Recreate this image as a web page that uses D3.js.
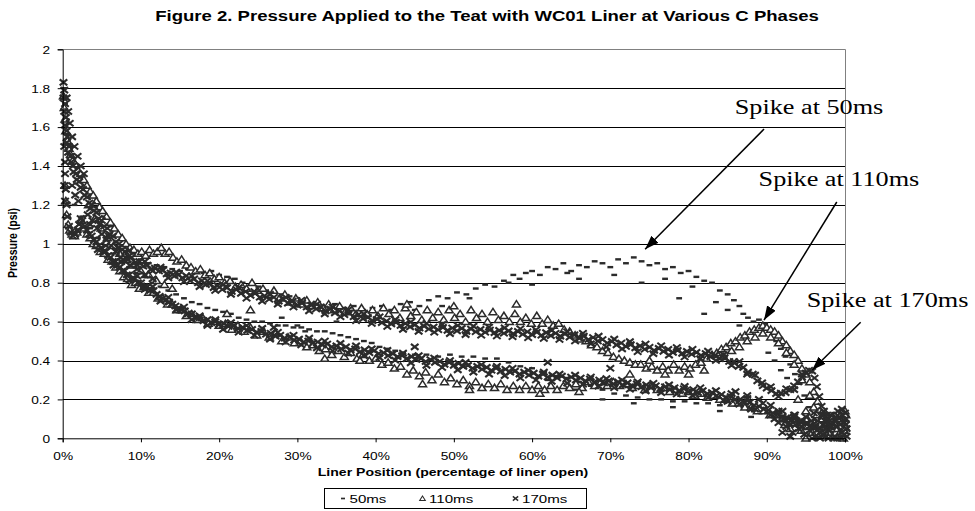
<!DOCTYPE html>
<html>
<head>
<meta charset="utf-8">
<script src="https://cdn.jsdelivr.net/npm/d3@7"></script>
<style>
  body { margin: 0; background: #fff; }
  svg { display: block; }
</style>
</head>
<body>
<script>
// ---- data (liner position %, pressure psi) ----
var xTicks = [0, 10, 20, 30, 40, 50, 60, 70, 80, 90, 100];
var yTicks = [0, 0.2, 0.4, 0.6, 0.8, 1, 1.2, 1.4, 1.6, 1.8, 2];
var seriesNames = ["50ms", "110ms", "170ms"];

// 50ms : upper arc, lower branch, loose points, floor cluster
var ms50Upper = [[0.2,1.8],[0.3,1.72],[0.5,1.64],[0.7,1.56],[1.0,1.5],[1.4,1.44],[1.9,1.39],[2.5,1.34],[3.1,1.29],[3.8,1.24],[4.5,1.19],[5.3,1.14],[6.1,1.09],[7.0,1.04],[8.0,0.99],[9.0,0.95],[10,0.92],[11,0.9],[12,0.89],[13,0.88],[14,0.87],[15,0.86],[16,0.87],[17,0.86],[18,0.85],[19,0.86],[20,0.84],[21,0.83],[22,0.82],[23,0.8],[24,0.79],[25,0.78],[26,0.76],[27,0.75],[28,0.74],[29,0.73],[30,0.72],[31.2,0.7],[32.4,0.7],[33.6,0.68],[34.8,0.69],[36,0.67],[37.2,0.68],[38.4,0.66],[39.6,0.67],[40.8,0.68],[42,0.66],[43.2,0.69],[44.4,0.7],[45.6,0.68],[46.8,0.71],[48,0.73],[49.2,0.72],[50.4,0.75],[51.6,0.74],[52.8,0.77],[54,0.79],[55.2,0.78],[56.4,0.81],[57.6,0.84],[58.4,0.82],[59.2,0.85],[60,0.86],[61,0.84],[62,0.88],[63,0.87],[64,0.9],[65,0.86],[66,0.89],[67,0.88],[68,0.91],[69,0.9],[70,0.88],[71,0.92],[72,0.9],[73,0.93],[74,0.91],[75,0.89],[76,0.9],[77,0.87],[78,0.88],[79,0.85],[80,0.86],[81,0.83],[82,0.81],[83,0.8],[84,0.76],[85,0.74],[85.8,0.71],[86.5,0.68],[87,0.64],[87.6,0.62],[88.3,0.6],[89,0.61],[89.8,0.59],[90.5,0.55],[91.2,0.5],[91.8,0.46],[92.4,0.42],[93,0.38],[93.6,0.33],[94.2,0.28],[94.8,0.22],[95.4,0.16],[96,0.11],[96.6,0.07]];
var ms50Lower = [[1.5,1.2],[2.5,1.14],[3.5,1.08],[4.5,1.03],[5.5,0.99],[6.5,0.95],[7.5,0.91],[8.5,0.88],[9.5,0.85],[10.5,0.83],[11.5,0.8],[12.5,0.78],[13.5,0.76],[14.5,0.74],[15.5,0.72],[16.5,0.7],[17.5,0.69],[18.5,0.67],[19.5,0.66],[20.5,0.65],[21.5,0.64],[22.5,0.62],[23.5,0.61],[24.5,0.6],[25.5,0.6],[26.5,0.59],[27.5,0.58],[28.5,0.58],[29.5,0.57],[30.5,0.57],[31.5,0.56],[32.5,0.55],[33.5,0.55],[34.5,0.54],[35.5,0.53],[36.5,0.52],[37.5,0.51],[38.5,0.5],[39.5,0.49],[40.5,0.47],[41.5,0.46],[42.5,0.45],[43.5,0.44],[45,0.43],[46.5,0.43],[48,0.42],[49.5,0.43],[51,0.42],[52.5,0.42],[54,0.41],[55.5,0.41],[57,0.39],[58.5,0.37],[60,0.36],[61.5,0.34],[63,0.32],[64.5,0.31],[66,0.29],[67.5,0.27],[69,0.25],[70.5,0.23],[72,0.22],[73.5,0.21],[75,0.2],[76.5,0.2],[78,0.19],[79.5,0.19],[81,0.18],[82.5,0.18],[84,0.17],[85.5,0.17],[87,0.16],[88.5,0.14],[90,0.13],[91.5,0.11],[93,0.09],[94.5,0.07],[96,0.05]];
var ms50Loose = [[66,0.82],[70.5,0.84],[74,0.8],[77,0.82],[78.8,0.72],[80.5,0.78],[82,0.64],[83.5,0.7],[85,0.66],[86.5,0.58],[88,0.55],[90.2,0.44],[91,0.4],[91.8,0.35],[92.6,0.31],[57,0.8],[60,0.79],[64.5,0.85],[52,0.72],[48.5,0.68],[45,0.66],[40,0.62],[35,0.6],[30,0.58],[62,0.3],[65.5,0.25],[69,0.2],[73,0.18],[78,0.16],[84,0.14],[88,0.11],[28,0.62],[31,0.55]];
var ms50Floor = [[95.5,0.02],[96.9,0.1],[97.8,0.06],[98.6,0.13],[99.3,0.04],[100,0.09],[99.8,0.15],[98.1,0.0]];

// 110ms
var ms110Upper = [[0.1,1.76],[0.2,1.7],[0.3,1.64],[0.4,1.58],[0.6,1.53],[0.8,1.49],[1.0,1.46],[1.3,1.43],[1.6,1.41],[1.9,1.38],[2.3,1.36],[2.7,1.33],[3.1,1.3],[3.5,1.27],[3.9,1.25],[4.3,1.22],[4.7,1.19],[5.1,1.17],[5.6,1.14],[6.1,1.11],[6.6,1.08],[7.1,1.05],[7.6,1.03],[8.1,1.0],[8.6,0.98],[9.1,0.97],[9.6,0.95],[10.1,0.96],[10.6,0.94],[11.1,0.97],[11.6,0.95],[12.1,0.96],[12.6,0.98],[13.1,0.95],[13.6,0.96],[14.1,0.93],[14.6,0.91],[15.2,0.92],[15.8,0.89],[16.4,0.88],[17,0.86],[17.6,0.87],[18.2,0.84],[18.8,0.85],[19.4,0.82],[20,0.83],[20.7,0.8],[21.4,0.81],[22.1,0.78],[22.8,0.79],[23.5,0.77],[24.2,0.8],[24.9,0.76],[25.6,0.77],[26.3,0.74],[27,0.76],[27.7,0.72],[28.4,0.74],[29.1,0.7],[29.8,0.72],[30.5,0.69],[31.2,0.71],[31.9,0.68],[32.6,0.7],[33.3,0.67],[34,0.69],[34.7,0.66],[35.4,0.68],[36.1,0.65],[36.8,0.67],[37.5,0.64],[38.2,0.67],[38.9,0.64],[39.6,0.66],[40.3,0.63],[41,0.67],[41.7,0.64],[42.4,0.66],[43.1,0.62],[43.8,0.67],[44.5,0.63],[45.2,0.65],[45.9,0.61],[46.6,0.66],[47.3,0.62],[48,0.65],[48.7,0.61],[49.4,0.66],[50.1,0.62],[50.8,0.64],[51.5,0.6],[52.2,0.66],[52.9,0.62],[53.6,0.64],[54.3,0.6],[55,0.65],[55.7,0.61],[56.4,0.63],[57.1,0.6],[57.8,0.64],[58.5,0.6],[59.2,0.62],[59.9,0.59],[60.6,0.63],[61.3,0.59],[62,0.61],[62.7,0.58],[63.4,0.59],[64.1,0.56],[64.8,0.55],[65.5,0.53],[66.2,0.51],[66.9,0.5],[67.6,0.48],[68.3,0.47],[69,0.45],[69.7,0.44],[70.4,0.42],[71.1,0.41],[71.8,0.4],[72.5,0.39],[73.2,0.38],[73.9,0.38],[74.6,0.36],[75.3,0.37],[76,0.35],[76.7,0.37],[77.4,0.35],[78.1,0.38],[78.8,0.35],[79.5,0.37],[80.2,0.36],[80.9,0.38],[81.6,0.39],[82.3,0.41],[83,0.43],[83.6,0.44],[84.2,0.46],[84.8,0.47],[85.4,0.49],[86,0.5],[86.6,0.52],[87.2,0.53],[87.8,0.55],[88.4,0.56],[89,0.57],[89.5,0.58],[90,0.57],[90.5,0.56],[91,0.55],[91.5,0.53],[92,0.5],[92.5,0.48],[93,0.45],[93.5,0.43],[94,0.4],[94.5,0.36],[95,0.33],[95.5,0.29],[96,0.24],[96.5,0.19],[97,0.13],[97.5,0.09],[98,0.06]];
var ms110Lower = [[0.3,1.3],[0.4,1.22],[0.5,1.15],[0.7,1.1],[0.9,1.07],[1.2,1.05],[1.5,1.04],[1.8,1.06],[2.1,1.09],[2.4,1.12],[2.7,1.08],[3.1,1.05],[3.5,1.03],[3.9,1.0],[4.3,0.99],[4.8,0.96],[5.3,0.95],[5.8,0.92],[6.3,0.91],[6.8,0.88],[7.3,0.86],[7.8,0.83],[8.3,0.82],[8.8,0.79],[9.3,0.8],[9.8,0.77],[10.4,0.78],[11,0.75],[11.6,0.75],[12.2,0.72],[12.8,0.72],[13.4,0.69],[14,0.69],[14.6,0.66],[15.2,0.66],[15.8,0.63],[16.5,0.64],[17.2,0.61],[17.9,0.62],[18.6,0.59],[19.3,0.6],[20,0.58],[20.8,0.59],[21.6,0.56],[22.4,0.58],[23.2,0.55],[24,0.57],[24.8,0.53],[25.6,0.55],[26.4,0.52],[27.2,0.54],[28,0.5],[28.8,0.52],[29.6,0.49],[30.4,0.5],[31.2,0.47],[32,0.48],[32.8,0.45],[33.6,0.46],[34.4,0.43],[35.2,0.45],[36,0.42],[36.8,0.44],[37.6,0.41],[38.4,0.43],[39.2,0.4],[40,0.41],[40.8,0.38],[41.6,0.39],[42.4,0.36],[43.2,0.37],[44,0.33],[44.8,0.35],[45.6,0.32],[46.4,0.34],[47.2,0.3],[48,0.33],[48.8,0.29],[49.6,0.31],[50.4,0.28],[51.2,0.3],[52,0.27],[52.8,0.29],[53.6,0.26],[54.4,0.28],[55.2,0.26],[56,0.28],[56.8,0.25],[57.6,0.27],[58.4,0.25],[59.2,0.27],[60,0.25],[60.8,0.27],[61.6,0.25],[62.4,0.27],[63.2,0.25],[64,0.27],[64.8,0.26],[65.6,0.28],[66.4,0.26],[67.2,0.29],[68,0.27],[68.8,0.29],[69.6,0.27],[70.4,0.29],[71.2,0.27],[72,0.28],[72.8,0.26],[73.6,0.27],[74.4,0.25],[75.2,0.27],[76,0.25],[76.8,0.26],[77.6,0.24],[78.4,0.25],[79.2,0.23],[80,0.24],[80.8,0.22],[81.6,0.23],[82.4,0.21],[83.2,0.22],[84,0.2],[84.8,0.2],[85.6,0.18],[86.4,0.18],[87.2,0.16],[88,0.16],[88.8,0.14],[89.6,0.14],[90.4,0.12],[91.2,0.12],[92,0.1],[92.8,0.1],[93.6,0.08],[94.4,0.08],[95.2,0.06],[96,0.06]];
var ms110Loose = [[3.3,1.2],[4.1,1.13],[4.9,1.08],[5.7,1.03],[6.5,0.99],[7.3,0.95],[8.1,0.92],[9,0.89],[10,0.86],[11,0.84],[12,0.81],[13,0.79],[14,0.77],[84.5,0.42],[85.5,0.45],[86.5,0.47],[87.5,0.5],[88.5,0.52],[89.5,0.54],[90.5,0.52],[91.5,0.49],[92.5,0.44],[93.5,0.38],[94.5,0.3],[95.5,0.22],[95,0.14],[94,0.2],[96,0.16],[24,0.66],[21,0.64],[33.5,0.41],[38,0.4],[46,0.28],[52,0.25],[61,0.23],[66,0.24],[72.5,0.33],[75,0.4],[77,0.33],[80,0.33],[82,0.35],[58,0.69],[44,0.69],[50,0.68]];
var ms110Floor = [[93,0.05],[94.4,0.04],[95.8,0.03],[96.4,0.12],[96.8,0.07],[97.3,0.04],[97.7,0.08],[98,0.01],[98.4,0.11],[98.8,0.05],[99.2,0.02],[99.6,0.09],[100,0.06],[100.1,0.12],[97.1,0.1],[98.6,0.08],[99.4,0.12],[99.8,0.0],[97.9,0.03],[96.1,0.08],[92.3,0.07],[93.8,0.1],[95.2,0.1],[96.6,0.01],[97.5,0.13],[98.2,0.05],[99,0.1],[99.9,0.04],[100,0.14],[95,0.0]];

// 170ms : two scatter rows per branch
var ms170Upper = [[0.1,1.83],[0.2,1.79],[0.1,1.75],[0.3,1.72],[0.2,1.68],[0.4,1.65],[0.3,1.61],[0.5,1.58],[0.6,1.55],[0.5,1.52],[0.8,1.5],[0.7,1.47],[1.0,1.45],[1.1,1.42],[1.3,1.4],[1.4,1.37],[1.7,1.36],[1.8,1.33],[2.1,1.32],[2.3,1.29],[2.6,1.28],[2.8,1.25],[3.1,1.24],[3.4,1.21],[3.7,1.2],[4.0,1.17],[4.3,1.16],[4.6,1.13],[5.0,1.12],[5.3,1.09],[5.7,1.08],[6.0,1.05],[6.4,1.04],[6.8,1.01],[7.2,1.0],[7.6,0.97],[8.0,0.96],[8.4,0.935],[8.8,0.93],[9.3,0.905],[9.8,0.91],[10.3,0.885],[10.8,0.89],[11.3,0.87],[11.8,0.875],[12.3,0.86],[12.8,0.865],[13.3,0.845],[13.8,0.85],[14.3,0.835],[14.8,0.84],[15.3,0.825],[15.8,0.835],[16.3,0.81],[16.8,0.82],[17.3,0.8],[17.8,0.81],[18.3,0.79],[18.8,0.795],[19.3,0.775],[19.8,0.785],[20.4,0.765],[21,0.775],[21.6,0.755],[22.2,0.765],[22.8,0.745],[23.4,0.755],[24,0.735],[24.6,0.745],[25.2,0.725],[25.8,0.733],[26.4,0.715],[27,0.725],[27.6,0.705],[28.2,0.715],[28.8,0.695],[29.4,0.705],[30,0.685],[30.6,0.695],[31.2,0.675],[31.8,0.685],[32.4,0.665],[33,0.675],[33.6,0.655],[34.2,0.665],[34.8,0.645],[35.4,0.655],[36,0.635],[36.6,0.645],[37.2,0.625],[37.8,0.635],[38.4,0.615],[39,0.622],[39.6,0.605],[40.2,0.612],[40.8,0.595],[41.4,0.603],[42,0.588],[42.6,0.596],[43.2,0.58],[43.8,0.59],[44.4,0.573],[45,0.583],[45.6,0.567],[46.2,0.577],[46.8,0.562],[47.4,0.572],[48,0.558],[48.6,0.57],[49.2,0.555],[49.8,0.567],[50.4,0.552],[51,0.565],[51.6,0.55],[52.2,0.562],[52.8,0.548],[53.4,0.56],[54,0.545],[54.6,0.557],[55.2,0.543],[55.8,0.555],[56.4,0.54],[57,0.552],[57.6,0.538],[58.2,0.55],[58.8,0.535],[59.4,0.548],[60,0.533],[60.6,0.545],[61.2,0.53],[61.8,0.543],[62.4,0.528],[63,0.54],[63.6,0.525],[64.2,0.537],[64.8,0.52],[65.4,0.532],[66,0.515],[66.6,0.525],[67.2,0.508],[67.8,0.518],[68.4,0.5],[69,0.508],[69.6,0.49],[70.2,0.498],[70.8,0.48],[71.4,0.49],[72,0.472],[72.6,0.482],[73.2,0.465],[73.8,0.475],[74.4,0.458],[75,0.468],[75.6,0.452],[76.2,0.462],[76.8,0.447],[77.4,0.457],[78,0.442],[78.6,0.452],[79.2,0.437],[79.8,0.447],[80.4,0.432],[81,0.442],[81.6,0.427],[82.2,0.436],[82.8,0.42],[83.4,0.428],[84,0.41],[84.6,0.415],[85.2,0.395],[85.8,0.395],[86.4,0.37],[87,0.365],[87.6,0.34],[88.2,0.33],[88.8,0.295],[89.4,0.285],[90,0.258],[90.6,0.245],[91.2,0.23],[91.8,0.232],[92.4,0.235],[93,0.25],[93.5,0.27],[94,0.29],[94.5,0.315],[95,0.335],[95.4,0.35],[95.8,0.345],[96.1,0.31],[96.4,0.265],[96.7,0.215],[97,0.165],[97.3,0.12],[97.6,0.09],[98,0.06]];
var ms170UpperB = [[8.5,0.965],[9.5,0.89],[10.5,0.91],[11.5,0.86],[12.5,0.88],[13.5,0.825],[14.5,0.855],[15.5,0.805],[16.5,0.835],[17.5,0.78],[18.5,0.81],[19.5,0.76],[20.5,0.79],[21.5,0.74],[22.5,0.775],[23.5,0.72],[24.5,0.755],[25.5,0.705],[26.5,0.74],[27.5,0.69],[28.5,0.725],[29.5,0.675],[30.5,0.71],[31.5,0.655],[32.5,0.69],[33.5,0.64],[34.5,0.675],[35.5,0.625],[36.5,0.66],[37.5,0.605],[38.5,0.64],[39.5,0.59],[40.5,0.625],[41.5,0.575],[42.5,0.61],[43.5,0.56],[44.5,0.598],[45.5,0.55],[46.5,0.59],[47.5,0.545],[48.5,0.585],[49.5,0.538],[50.5,0.58],[51.5,0.533],[52.5,0.577],[53.5,0.53],[54.5,0.572],[55.5,0.526],[56.5,0.568],[57.5,0.522],[58.5,0.563],[59.5,0.517],[60.5,0.558],[61.5,0.513],[62.5,0.555],[63.5,0.508],[64.5,0.548],[65.5,0.5],[66.5,0.54],[67.5,0.486],[68.5,0.525],[69.5,0.47],[70.5,0.51],[71.5,0.46],[72.5,0.497],[73.5,0.445],[74.5,0.485],[75.5,0.435],[76.5,0.476],[77.5,0.428],[78.5,0.467],[79.5,0.418],[80.5,0.458],[81.5,0.41],[82.5,0.448],[83.5,0.4],[84.5,0.43],[85.5,0.375],[86.5,0.395],[87.5,0.33],[88.5,0.325],[89.5,0.27],[90.5,0.265],[91.5,0.215],[92.5,0.255],[93.5,0.25],[94.5,0.33]];
var ms170Lower = [[0.3,1.36],[0.4,1.28],[0.5,1.2],[0.6,1.14],[0.8,1.09],[1.0,1.06],[1.3,1.04],[1.6,1.05],[1.9,1.07],[2.1,1.1],[2.3,1.13],[2.5,1.12],[2.8,1.09],[3.1,1.07],[3.4,1.05],[3.7,1.04],[4.0,1.02],[4.3,1.01],[4.6,0.99],[4.9,0.98],[5.2,0.96],[5.5,0.96],[5.8,0.94],[6.1,0.93],[6.4,0.91],[6.7,0.91],[7.0,0.89],[7.3,0.88],[7.6,0.86],[7.9,0.86],[8.2,0.84],[8.5,0.84],[8.8,0.82],[9.2,0.82],[9.6,0.8],[10,0.8],[10.4,0.78],[10.8,0.78],[11.2,0.76],[11.6,0.76],[12,0.74],[12.4,0.73],[12.8,0.72],[13.2,0.71],[13.6,0.7],[14,0.69],[14.4,0.68],[14.8,0.67],[15.2,0.66],[15.6,0.655],[16,0.64],[16.5,0.64],[17,0.62],[17.5,0.62],[18,0.605],[18.5,0.61],[19,0.595],[19.5,0.6],[20,0.585],[20.6,0.59],[21.2,0.575],[21.8,0.58],[22.4,0.565],[23,0.57],[23.6,0.555],[24.2,0.56],[24.8,0.545],[25.4,0.55],[26,0.535],[26.6,0.54],[27.2,0.525],[27.8,0.53],[28.4,0.515],[29,0.52],[29.6,0.505],[30.2,0.51],[30.8,0.495],[31.4,0.5],[32,0.49],[32.6,0.495],[33.2,0.48],[33.8,0.485],[34.4,0.47],[35,0.475],[35.6,0.46],[36.2,0.47],[36.8,0.455],[37.4,0.46],[38,0.445],[38.6,0.455],[39.2,0.44],[39.8,0.45],[40.4,0.435],[41,0.44],[41.6,0.425],[42.2,0.435],[42.8,0.42],[43.4,0.425],[44,0.41],[44.6,0.42],[45.2,0.405],[45.8,0.41],[46.4,0.395],[47,0.405],[47.6,0.39],[48.2,0.395],[48.8,0.38],[49.4,0.39],[50,0.375],[50.6,0.385],[51.2,0.37],[51.8,0.375],[52.4,0.36],[53,0.37],[53.6,0.355],[54.2,0.365],[54.8,0.35],[55.4,0.36],[56,0.345],[56.6,0.355],[57.2,0.34],[57.8,0.345],[58.4,0.33],[59,0.34],[59.6,0.325],[60.2,0.335],[60.8,0.32],[61.4,0.33],[62,0.315],[62.6,0.325],[63.2,0.31],[63.8,0.32],[64.4,0.305],[65,0.315],[65.6,0.3],[66.2,0.31],[66.8,0.295],[67.4,0.305],[68,0.29],[68.6,0.3],[69.2,0.285],[69.8,0.295],[70.4,0.28],[71,0.29],[71.6,0.275],[72.2,0.285],[72.8,0.27],[73.4,0.28],[74,0.265],[74.6,0.275],[75.2,0.26],[75.8,0.27],[76.4,0.255],[77,0.265],[77.6,0.25],[78.2,0.26],[78.8,0.245],[79.4,0.255],[80,0.24],[80.6,0.25],[81.2,0.235],[81.8,0.245],[82.4,0.23],[83,0.235],[83.6,0.22],[84.2,0.225],[84.8,0.21],[85.4,0.215],[86,0.2],[86.6,0.2],[87.2,0.185],[87.8,0.185],[88.4,0.17],[89,0.165],[89.6,0.15],[90.2,0.145],[90.8,0.13],[91.4,0.125],[92,0.11],[92.6,0.105],[93.2,0.095],[93.8,0.09],[94.4,0.08],[95,0.075],[95.6,0.065],[96.2,0.06],[96.8,0.05]];
var ms170LowerB = [[3.5,1.1],[4.5,0.97],[5.5,0.99],[6.5,0.89],[7.5,0.91],[8.5,0.81],[9.5,0.835],[10.5,0.765],[11.5,0.78],[12.5,0.705],[13.5,0.725],[14.5,0.66],[15.5,0.675],[16.5,0.61],[17.5,0.63],[18.5,0.58],[19.5,0.61],[20.5,0.56],[21.5,0.595],[22.5,0.545],[23.5,0.58],[24.5,0.53],[25.5,0.565],[26.5,0.51],[27.5,0.545],[28.5,0.495],[29.5,0.53],[30.5,0.48],[31.5,0.515],[32.5,0.465],[33.5,0.5],[34.5,0.45],[35.5,0.488],[36.5,0.438],[37.5,0.475],[38.5,0.425],[39.5,0.46],[40.5,0.415],[41.5,0.452],[42.5,0.402],[43.5,0.438],[44.5,0.388],[45.5,0.425],[46.5,0.375],[47.5,0.413],[48.5,0.364],[49.5,0.4],[50.5,0.352],[51.5,0.39],[52.5,0.34],[53.5,0.378],[54.5,0.33],[55.5,0.37],[56.5,0.322],[57.5,0.36],[58.5,0.31],[59.5,0.35],[60.5,0.3],[61.5,0.34],[62.5,0.293],[63.5,0.33],[64.5,0.284],[65.5,0.325],[66.5,0.278],[67.5,0.315],[68.5,0.268],[69.5,0.307],[70.5,0.26],[71.5,0.3],[72.5,0.252],[73.5,0.29],[74.5,0.243],[75.5,0.283],[76.5,0.235],[77.5,0.275],[78.5,0.228],[79.5,0.267],[80.5,0.22],[81.5,0.26],[82.5,0.21],[83.5,0.245],[84.5,0.195],[85.5,0.23],[86.5,0.175],[87.5,0.205],[88.5,0.15],[89.5,0.18],[90.5,0.12],[91.5,0.14],[92.5,0.09],[93.5,0.11]];
var ms170Loose = [[3.2,1.15],[3.8,1.12],[4.4,1.08],[5.0,1.05],[5.6,1.02],[6.2,0.99],[6.8,0.96],[7.4,0.93],[8,0.91],[8.6,0.89],[3.5,1.18],[4.7,1.1],[5.9,1.04],[7.1,0.98],[8.3,0.92],[9.5,0.87],[10.5,0.84],[11.5,0.82],[27,0.57],[62,0.39],[45,0.47],[70,0.36],[0.5,1.75],[0.7,1.68],[0.9,1.62],[1.2,1.55],[1.5,1.5],[1.9,1.45],[2.3,1.4],[2.7,1.36],[0.2,1.5],[0.3,1.42],[0.2,1.3],[0.3,1.22],[1.2,1.3],[1.6,1.25],[2.0,1.22],[86,0.24],[87.5,0.22],[89,0.2],[90.5,0.17],[92,0.14],[93.5,0.12],[85,0.19],[88,0.15],[91,0.1]];
var ms170Floor = [[92.5,0.06],[93.3,0.03],[94.1,0.05],[94.8,0.02],[95.5,0.04],[96.2,0.01],[96.5,0.09],[96.9,0.03],[97.2,0.07],[97.5,0.01],[97.8,0.1],[98.1,0.04],[98.4,0.08],[98.7,0.01],[99,0.06],[99.3,0.11],[99.6,0.03],[99.9,0.08],[100,0.13],[100.2,0.05],[97,0.12],[98.2,0.12],[99.1,0.14],[100.1,0.1],[97.6,0.05],[98.9,0.09],[99.5,0.0],[96.7,0.05],[98.5,0.0],[100.2,0.01],[92,0.03],[93.7,0.07],[95.1,0.08],[95.9,0.06],[97.4,0.09],[99.7,0.12],[91.5,0.08],[92.2,0.1],[92.9,0.07],[93.6,0.12],[94.3,0.09],[95,0.11],[95.7,0.09],[96.4,0.04],[97.1,0.02],[97.7,0.12],[98.3,0.06],[98.8,0.11],[99.4,0.07],[99.9,0.02],[100.1,0.07],[96,0.13],[97.3,0.14],[98,0.09],[99,0.0],[99.6,0.15],[93,0.01],[94.5,0.06],[95.8,0.0],[96.8,0.0],[97.9,0.0]];

// callouts: text anchor and arrow (from -> to), in data units
var callouts = [
  { text: "Spike at 50ms",  tx: 85.9, ty: 1.667, x1: 89.65, y1: 1.59,  x2: 74.45, y2: 0.972 },
  { text: "Spike at 110ms", tx: 88.95, ty: 1.297, x1: 98.95, y1: 1.215, x2: 89.65, y2: 0.608 },
  { text: "Spike at 170ms", tx: 95.1, ty: 0.675, x1: 102.0, y1: 0.597, x2: 95.8,  y2: 0.351 }
];

// ---- drawing ----
var width = 975, height = 511;
var STRETCH = 1.28;   // the original picture is widened horizontally
var ink = "#2b2b2b";
var sans = "Arial, 'Liberation Sans', sans-serif";
var serif = "'Times New Roman', 'Liberation Serif', serif";

var svg = d3.select("body").append("svg")
  .attr("width", width)
  .attr("height", height);

svg.append("rect").attr("width", width).attr("height", height).attr("fill", "#fff");

var x = d3.scaleLinear().domain([0, 100]).range([62.7, 845]);
var y = d3.scaleLinear().domain([0, 2]).range([438.3, 49.3]);

function putText(g, px, py, txt, size, opts) {
  opts = opts || {};
  return g.append("text")
    .attr("transform", "translate(" + px + "," + py + ") scale(" + STRETCH + ",1)")
    .attr("text-anchor", opts.anchor || "start")
    .style("font-family", opts.family || sans)
    .style("font-size", size + "px")
    .style("font-weight", opts.weight || "normal")
    .attr("fill", "#000")
    .text(txt);
}

// gridlines
var grid = svg.append("g");
grid.selectAll("line")
  .data(yTicks.filter(function(d) { return d > 0 && d < 2; }))
  .enter().append("line")
  .attr("x1", x(0)).attr("x2", x(100))
  .attr("y1", function(d) { return Math.round(y(d)) + 0.5; })
  .attr("y2", function(d) { return Math.round(y(d)) + 0.5; })
  .attr("stroke", "#000").attr("stroke-width", 1);

// plot border (grey, top & right)
svg.append("path")
  .attr("d", "M" + x(0) + "," + (Math.round(y(2)) + 0.5) + "H" + (Math.round(x(100)) + 0.5) + "V" + y(0))
  .attr("fill", "none").attr("stroke", "#808080");

// markers
var shapes = {
  dash: "M-2.9,-1.2H2.9V1.2H-2.9Z",
  tri: "M0,-3.5L4,2.8L-4,2.8Z",
  cross: "M-3.8,-3L3.8,3M-3.8,3L3.8,-3"
};
function styleMarker(sel, shape) {
  sel.attr("d", shapes[shape]);
  if (shape === "dash") sel.attr("fill", ink).attr("stroke", "none");
  else if (shape === "tri") sel.attr("fill", "#fff").attr("stroke", ink).attr("stroke-width", 1.5);
  else sel.attr("fill", "none").attr("stroke", ink).attr("stroke-width", 2.1);
}

var series = [
  { name: seriesNames[0], shape: "dash", points: ms50Upper.concat(ms50Lower, ms50Loose, ms50Floor) },
  { name: seriesNames[1], shape: "tri", points: ms110Upper.concat(ms110Lower, ms110Loose, ms110Floor) },
  { name: seriesNames[2], shape: "cross", points: ms170Upper.concat(ms170UpperB, ms170Lower, ms170LowerB, ms170Loose, ms170Floor) }
];

var plot = svg.append("g");
series.forEach(function(s) {
  plot.append("g")
    .selectAll("path")
    .data(s.points)
    .enter().append("path")
    .attr("transform", function(d) { return "translate(" + x(d[0]) + "," + y(d[1]) + ")"; })
    .call(styleMarker, s.shape);
});

// axes
var yAxis = svg.append("g")
  .attr("transform", "translate(" + x(0) + ",0)")
  .call(d3.axisLeft(y).tickValues(yTicks).tickSize(5).tickPadding(0)
    .tickFormat(function(d) { return String(+d.toFixed(1)); }));
yAxis.select(".domain").attr("stroke", "#000");
yAxis.selectAll(".tick line").attr("stroke", "#000");
yAxis.selectAll(".tick text")
  .attr("x", null).attr("dy", "0.36em")
  .attr("transform", "translate(-12.5,0) scale(" + STRETCH + ",1)")
  .style("font-family", sans).style("font-size", "10.7px").attr("fill", "#000");

var xAxis = svg.append("g")
  .attr("transform", "translate(0," + y(0) + ")")
  .call(d3.axisBottom(x).tickValues(xTicks).tickSize(4).tickPadding(0)
    .tickFormat(function(d) { return d + "%"; }));
xAxis.select(".domain").attr("stroke", "#000");
xAxis.selectAll(".tick line").attr("stroke", "#000");
xAxis.selectAll(".tick text")
  .attr("y", null).attr("dy", "0")
  .attr("transform", "translate(0,21.2) scale(" + STRETCH + ",1)")
  .style("font-family", sans).style("font-size", "10.7px").attr("fill", "#000");

// titles
putText(svg, 487, 21, "Figure 2. Pressure Applied to the Teat with WC01 Liner at Various C Phases", 14.5,
  { anchor: "middle", weight: "bold" });
putText(svg, 453, 476, "Liner Position (percentage of liner open)", 11, { anchor: "middle", weight: "bold" });
svg.append("text")
  .attr("transform", "translate(17,243) scale(" + STRETCH + ",1) rotate(-90)")
  .attr("text-anchor", "middle")
  .style("font-family", sans).style("font-size", "10.5px").style("font-weight", "bold")
  .text("Pressure (psi)");

// callouts
var defs = svg.append("defs");
defs.append("marker")
  .attr("id", "head")
  .attr("viewBox", "0 0 14 10")
  .attr("refX", 14).attr("refY", 5)
  .attr("markerWidth", 14).attr("markerHeight", 10)
  .attr("markerUnits", "userSpaceOnUse")
  .attr("orient", "auto")
  .append("path").attr("d", "M0,0L14,5L0,10Z").attr("fill", "#000");

var notes = svg.append("g");
callouts.forEach(function(c) {
  notes.append("line")
    .attr("x1", x(c.x1)).attr("y1", y(c.y1))
    .attr("x2", x(c.x2)).attr("y2", y(c.y2))
    .attr("stroke", "#000").attr("stroke-width", 1.5)
    .attr("marker-end", "url(#head)");
  putText(notes, x(c.tx), y(c.ty), c.text, 20.5, { family: serif });
});

// legend
var legend = svg.append("g");
legend.append("rect")
  .attr("x", 324.5).attr("y", 488.5).attr("width", 262).attr("height", 20)
  .attr("fill", "#fff").attr("stroke", "#000");
var legendPos = [343, 422.5, 515.5];
series.forEach(function(s, i) {
  legend.append("path")
    .attr("transform", "translate(" + legendPos[i] + ",498.5) scale(0.7)")
    .call(styleMarker, s.shape);
  putText(legend, legendPos[i] + 6.5, 502.5, s.name, 11.8);
});
</script>
</body>
</html>
